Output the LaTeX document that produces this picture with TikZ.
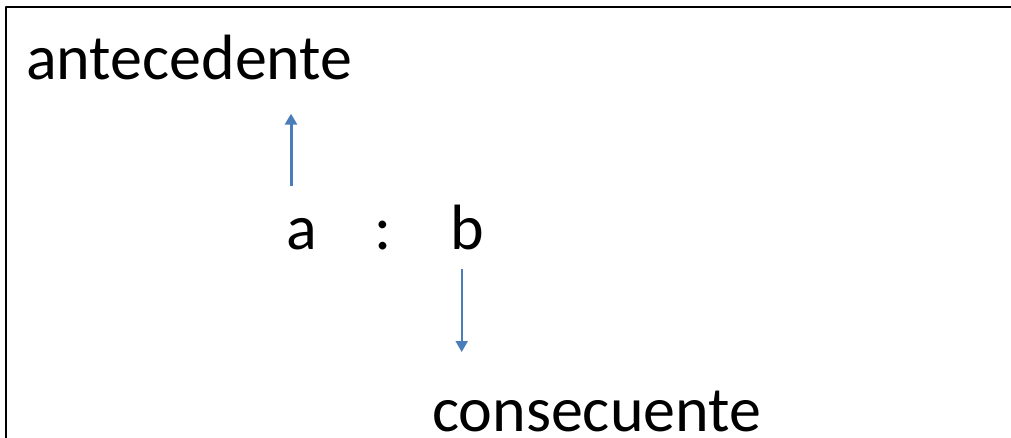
\documentclass[tikz,border=0pt]{standalone}
\usepackage{fontspec}
\setmainfont{Carlito}
\usetikzlibrary{arrows.meta,calc}
\definecolor{flecha}{RGB}{74,126,187}
\tikzset{
	palabra/.style={inner sep=0pt, anchor=base west},
	letra/.style={inner sep=0pt, anchor=base},
	flechaazul/.style={draw=flecha, -{Triangle[width=12pt,length=11pt]}}
}
\begin{document}
\begin{tikzpicture}[x=1pt, y=-1pt, font=\fontsize{64}{76}\selectfont, line join=round, >=stealth]
					\useasboundingbox (0,0) rectangle (1011,438);
					\fill[white] (0,0) rectangle (1011,438);
					\draw[line width=2pt] (6,438) -- (6,7.5) -- (1011,7.5);
					\node[palabra] (ante) at (26,80) {antecedente};
					\node[letra] (a) at (302,250) {a};
					\node[letra] (dos) at (383.5,250) {:};
					\node[letra] (b) at (467,250) {b};
					\node[palabra] (cons) at (432,431) {consecuente};
					\draw[flechaazul, line width=3pt, shorten <=33pt, shorten >=33pt]
						([xshift=-11pt]a.north) -- ([xshift=-11pt]a.north |- ante.south);
					\draw[flechaazul, line width=2pt, shorten <=18pt, shorten >=79pt]
						([xshift=-5.3pt]b.south) -- ([xshift=-5.3pt]b.south |- cons.base);
			\end{tikzpicture}
\end{document}
